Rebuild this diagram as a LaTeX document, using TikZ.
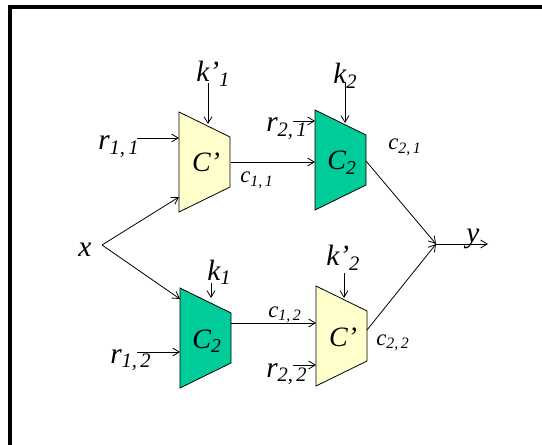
\documentclass[tikz,border=0pt]{standalone}
\usepackage{fontspec}
\setmainfont{Liberation Serif}
\usetikzlibrary{arrows.meta}
\definecolor{encyellow}{HTML}{FFFFCC}
\definecolor{encgreen}{HTML}{00CC99}

\begin{document}
\begin{tikzpicture}[x=0.75pt, y=-0.75pt, >={Straight Barb[length=5pt,width=6pt]},
  lbl/.style={font=\itshape\fontsize{22}{22}\selectfont, inner sep=0pt, anchor=base west},
  clbl/.style={font=\itshape\fontsize{17}{17}\selectfont, inner sep=0pt, anchor=base west},
  blklbl/.style={font=\itshape\fontsize{21}{21}\selectfont, inner sep=0pt, anchor=base},
  blkline/.style={draw=black, line width=0.6pt},
  wire/.style={->, line width=0.6pt}]
\useasboundingbox (0,0) rectangle (542,445);
% frame
\draw[line width=3.5pt] (10,445) -- (10,7) -- (542,7);

% the four blocks
\foreach \nm/\xl/\yt/\col/\txt in {enc11/179/112/encyellow/{C’}, enc21/315/110/encgreen/{C\textsubscript{2}},
    enc12/180/288/encgreen/{C\textsubscript{2}}, enc22/316/286/encyellow/{C’}}{
  \draw[blkline, fill=\col] (\xl,\yt) -- ++(0,100) -- ++(51,-25) -- ++(0,-50) -- cycle;
  \node[blklbl] (\nm) at (\xl+27,\yt+60) {\txt};
}

% ports
\coordinate (X)    at (102,245);
\coordinate (Y)    at (436,244);
\coordinate (Yend) at (488,244);
\coordinate (r11s) at (137,138);  \coordinate (r11e) at (179,138);
\coordinate (k11s) at (208,83);   \coordinate (k11e) at (208,124);
\coordinate (x11e) at (179,197);
\coordinate (o11)  at (231,162);  \coordinate (i21)  at (315,162);
\coordinate (r21s) at (293,121);  \coordinate (r21e) at (315,121);
\coordinate (k21s) at (345,83);   \coordinate (k21e) at (345,123);
\coordinate (o21)  at (366,161);
\coordinate (x12e) at (180,299);
\coordinate (r12s) at (137,352);  \coordinate (r12e) at (180,352);
\coordinate (k12s) at (211,283);  \coordinate (k12e) at (211,298);
\coordinate (o12)  at (231,323);  \coordinate (i22)  at (316,323);
\coordinate (r22s) at (293,365);  \coordinate (r22e) at (316,365);
\coordinate (k22s) at (344,273);  \coordinate (k22e) at (344,298);
\coordinate (o22)  at (367,330);

% labels
\node[lbl] (xlab)  at (78,257)  {x};
\node[lbl] (ylab)  at (466,243) {y};
\node[lbl] (r11)   at (98,150)  {r\textsubscript{1,\,1}};
\node[lbl] (k11)   at (196,82)  {k’\textsubscript{1}};
\node[clbl] (c11)  at (240,183) {c\textsubscript{1,\,1}};
\node[lbl] (r21)   at (266,132) {r\textsubscript{2,\,1}};
\node[lbl] (k21)   at (333,84)  {k\textsubscript{2}};
\node[clbl] (c21)  at (388,150) {c\textsubscript{2,\,1}};
\node[lbl] (k12)   at (207,280) {k\textsubscript{1}};
\node[lbl] (r12)   at (110,363) {r\textsubscript{1,\,2}};
\node[clbl] (c12)  at (268,317) {c\textsubscript{1,\,2}};
\node[lbl] (k22)   at (326,266) {k’\textsubscript{2}};
\node[lbl] (r22)   at (266,377) {r\textsubscript{2,\,2}};
\node[clbl] (c22)  at (376,345) {c\textsubscript{2,\,2}};

% connectors
\draw[wire] (X) -- (x11e);
\draw[wire] (X) -- (x12e);
\draw[wire] (r11s) -- (r11e);
\draw[wire] (k11s) -- (k11e);
\draw[wire] (o11) -- (i21);
\draw[wire] (r21s) -- (r21e);
\draw[wire] (k21s) -- (k21e);
\draw[wire] (o21) -- (Y);
\draw[wire] (r12s) -- (r12e);
\draw[wire] (k12s) -- (k12e);
\draw[wire] (o12) -- (i22);
\draw[wire] (r22s) -- (r22e);
\draw[wire] (k22s) -- (k22e);
\draw[wire] (o22) -- (Y);
\draw[wire] (Y) -- (Yend);
\end{tikzpicture}
\end{document}
